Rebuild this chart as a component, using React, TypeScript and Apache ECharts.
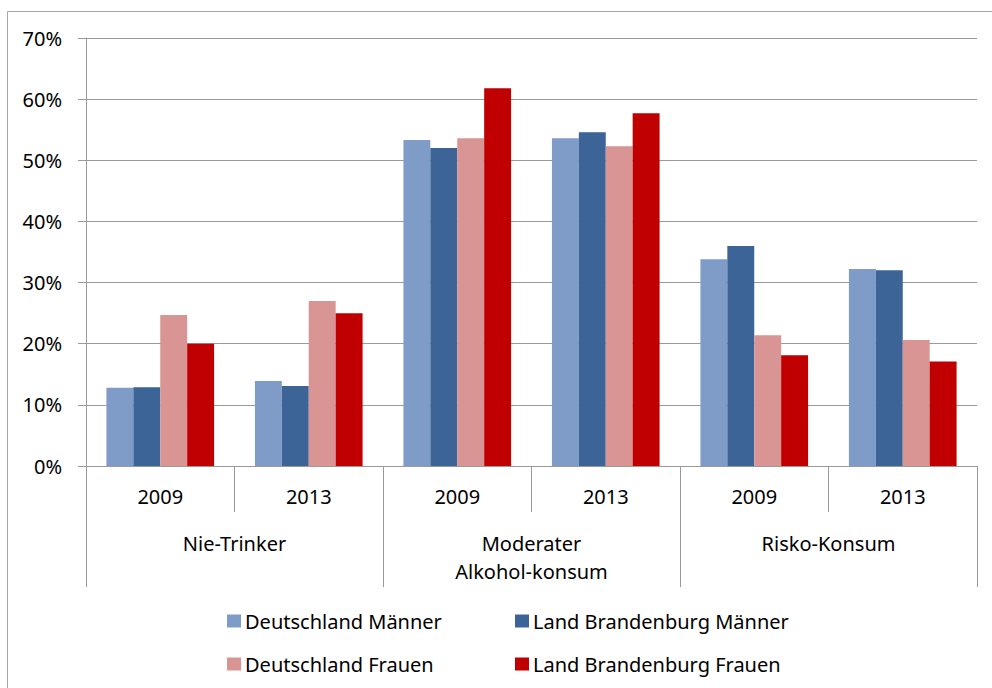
import React, { useEffect, useRef } from "react";
import * as echarts from "echarts";

const years = ["2009", "2013", "2009", "2013", "2009", "2013"];
const groups = ["Nie-Trinker", "Moderater\nAlkohol-konsum", "Risko-Konsum"];
const yTicks = { min: 0, max: 70, interval: 10 };

const seriesNames = [
  "Deutschland Männer",
  "Land Brandenburg Männer",
  "Deutschland Frauen",
  "Land Brandenburg Frauen",
];
const deutschlandMaenner = [12.8, 13.9, 53.3, 53.6, 33.8, 32.2];
const brandenburgMaenner = [12.9, 13.1, 52.0, 54.6, 36.0, 32.0];
const deutschlandFrauen = [24.7, 27.0, 53.6, 52.3, 21.4, 20.6];
const brandenburgFrauen = [20.0, 25.0, 61.8, 57.7, 18.1, 17.1];

const seriesValues = [deutschlandMaenner, brandenburgMaenner, deutschlandFrauen, brandenburgFrauen];
const colors = ["#7f9cc8", "#3c6496", "#d99594", "#c00000"];

const FONT = "Noto Sans";
const GRAY = "#9a9a9a";

export default function App() {
  const ref = useRef<HTMLDivElement>(null);
  useEffect(() => {
    if (!ref.current) return;
    const chart = echarts.init(ref.current, undefined, { renderer: "svg" });
    const legendPos = [
      { left: 222, top: 606 },
      { left: 510, top: 606 },
      { left: 222, top: 649 },
      { left: 510, top: 649 },
    ];
    chart.setOption({
      animation: false,
      backgroundColor: "#ffffff",
      textStyle: { fontFamily: FONT },
      grid: { left: 86, right: 15, top: 38, bottom: 222, containLabel: false },
      graphic: [
        {
          type: "rect",
          silent: true,
          shape: { x: 7.5, y: 11.5, width: 1200, height: 900 },
          style: { fill: "none", stroke: "#a6a6a6", lineWidth: 1 },
        },
      ],
      legend: seriesNames.map((n, i) => ({
        data: [n],
        left: legendPos[i].left,
        top: legendPos[i].top,
        itemWidth: 14,
        itemHeight: 13,
        itemGap: 0,
        selectedMode: false,
        icon: "rect",
        textStyle: { fontFamily: FONT, fontSize: 20, color: "#000", padding: [0, 0, 0, -1] },
      })),
      xAxis: [
        {
          type: "category",
          data: years,
          position: "bottom",
          axisLine: { show: true, lineStyle: { color: GRAY, width: 1 } },
          axisTick: { show: true, interval: 0, length: 46, lineStyle: { color: GRAY } },
          axisLabel: { interval: 0, margin: 20, fontFamily: FONT, fontSize: 20, color: "#000" },
          splitLine: { show: false },
        },
        {
          type: "category",
          data: groups,
          position: "bottom",
          axisLine: { show: true, lineStyle: { color: GRAY, width: 1 } },
          axisTick: { show: true, interval: 0, length: 121, lineStyle: { color: GRAY } },
          axisLabel: {
            interval: 0,
            margin: 63,
            fontFamily: FONT,
            fontSize: 20,
            lineHeight: 28,
            color: "#000",
          },
          splitLine: { show: false },
        },
      ],
      yAxis: {
        type: "value",
        min: yTicks.min,
        max: yTicks.max,
        interval: yTicks.interval,
        axisLine: { show: true, lineStyle: { color: GRAY, width: 1 } },
        axisTick: { show: true, length: 8, lineStyle: { color: GRAY } },
        axisLabel: {
          formatter: "{value}%",
          margin: 24,
          fontFamily: FONT,
          fontSize: 20,
          color: "#000",
        },
        splitLine: { show: true, lineStyle: { color: GRAY, width: 1 } },
      },
      series: seriesNames.map((n, i) => ({
        name: n,
        type: "bar",
        xAxisIndex: 0,
        data: seriesValues[i],
        barGap: "0%",
        barCategoryGap: "27.5%",
        itemStyle: { color: colors[i] },
      })),
    });
    return () => chart.dispose();
  }, []);
  return (
    <div
      ref={ref}
      style={{ position: "fixed", left: 0, top: 0, width: 992, height: 688 }}
    />
  );
}
